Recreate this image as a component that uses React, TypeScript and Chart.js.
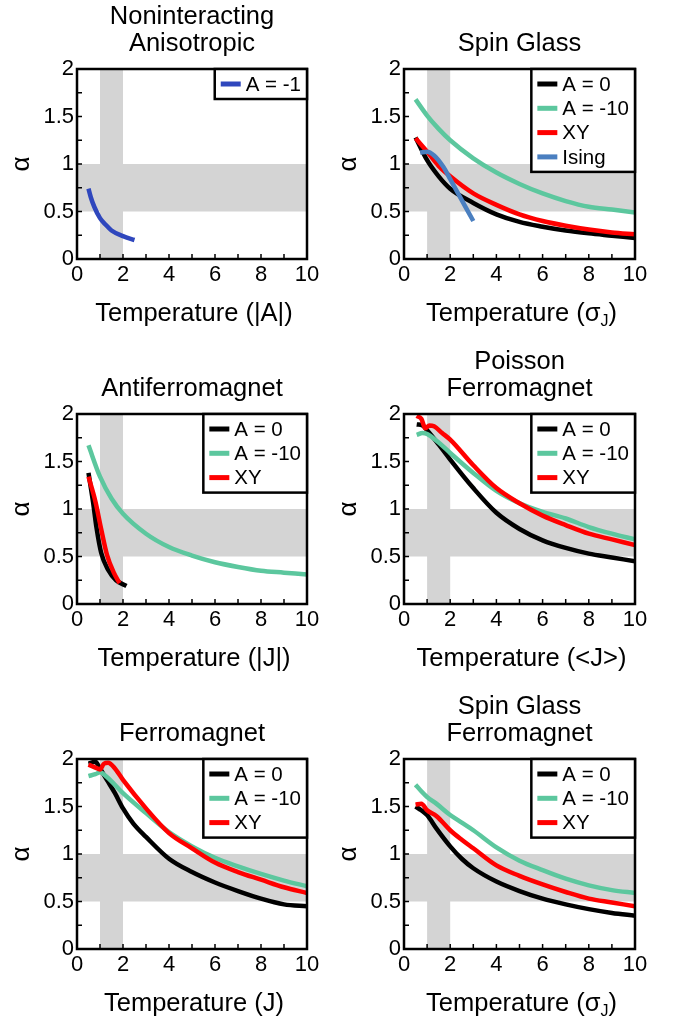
import React, { useEffect, useRef } from "react";
import { Chart, registerables } from "chart.js";

Chart.register(...registerables);

const FONT = "'Liberation Sans', Arial, Helvetica, sans-serif";

// ---------------- axes / reference bands ----------------
const tempTicks = [0, 2, 4, 6, 8, 10];
const alphaTicks = [0, 0.5, 1, 1.5, 2];
const tempMinor = [1, 2, 3, 4, 5, 6, 7, 8, 9];
const alphaMinor = [0.25, 0.5, 0.75, 1, 1.25, 1.5, 1.75];
const bandTemperature = [1, 2];
const bandAlpha = [0.5, 1];

// ---------------- Noninteracting Anisotropic ----------------
const niT = [0.5, 0.6, 0.75, 1.0, 1.25, 1.5, 2.0, 2.5];
const niA1 = [0.74, 0.65, 0.55, 0.43, 0.36, 0.3, 0.24, 0.2];

// ---------------- Spin Glass ----------------
const sgT = [0.5, 1, 1.5, 2, 3, 4, 5, 6, 7, 8, 9, 10];
const sgA0 = [1.28, 1.04, 0.87, 0.74, 0.59, 0.47, 0.39, 0.34, 0.3, 0.27, 0.245, 0.22];
const sgA10 = [1.68, 1.51, 1.37, 1.25, 1.06, 0.91, 0.79, 0.69, 0.61, 0.55, 0.52, 0.49];
const sgXY = [1.27, 1.13, 0.98, 0.87, 0.69, 0.57, 0.47, 0.4, 0.35, 0.31, 0.28, 0.26];
const sgIsingT = [0.7, 1.0, 1.3, 1.7, 2.0, 2.5, 3.0];
const sgIsing = [1.12, 1.13, 1.09, 0.97, 0.84, 0.62, 0.4];

// ---------------- Antiferromagnet ----------------
const afA0T = [0.5, 0.7, 0.85, 1.05, 1.35, 1.7, 2.15];
const afA0 = [1.38, 1.07, 0.8, 0.54, 0.36, 0.25, 0.19];
const afA10T = [0.5, 1, 1.5, 2, 3, 4, 5, 6, 7, 8, 9, 10];
const afA10 = [1.67, 1.34, 1.11, 0.95, 0.74, 0.6, 0.51, 0.44, 0.39, 0.35, 0.33, 0.31];
const afXYT = [0.5, 0.8, 1.05, 1.3, 1.6, 1.85];
const afXY = [1.34, 1.08, 0.79, 0.52, 0.33, 0.22];

// ---------------- Poisson Ferromagnet ----------------
const pfT = [0.55, 0.8, 1.0, 1.5, 2, 3, 4, 5, 6, 7, 8, 9, 10];
const pfA0 = [1.89, 1.88, 1.83, 1.68, 1.52, 1.22, 0.96, 0.79, 0.67, 0.59, 0.53, 0.49, 0.45];
const pfA10 = [1.78, 1.8, 1.79, 1.7, 1.59, 1.38, 1.19, 1.06, 0.97, 0.9, 0.81, 0.74, 0.68];
const pfXYT = [0.55, 0.75, 0.92, 1.1, 1.3, 1.65, 2, 3, 4, 5, 6, 7, 8, 9, 10];
const pfXY = [1.98, 1.95, 1.85, 1.88, 1.87, 1.8, 1.73, 1.46, 1.22, 1.06, 0.93, 0.83, 0.74, 0.68, 0.62];

// ---------------- Ferromagnet ----------------
const fA0T = [0.5, 0.8, 1.0, 1.3, 1.65, 2, 2.45, 3, 4, 5, 6, 7, 8, 9, 10];
const fA0 = [1.95, 1.97, 1.9, 1.78, 1.64, 1.48, 1.32, 1.18, 0.95, 0.81, 0.7, 0.61, 0.53, 0.47, 0.45];
const fA10T = [0.5, 0.8, 1.0, 1.3, 2, 3, 4, 5, 6, 7, 8, 9, 10];
const fA10 = [1.82, 1.84, 1.86, 1.81, 1.64, 1.43, 1.23, 1.08, 0.96, 0.87, 0.79, 0.72, 0.66];
const fXYT = [0.5, 0.8, 1.0, 1.17, 1.35, 1.65, 2, 3, 4, 5, 6, 7, 8, 9, 10];
const fXY = [1.94, 1.91, 1.89, 1.95, 1.96, 1.9, 1.78, 1.48, 1.22, 1.06, 0.91, 0.81, 0.73, 0.65, 0.59];

// ---------------- Spin Glass Ferromagnet ----------------
const sgfT = [0.5, 0.75, 1, 1.4, 2, 2.5, 3, 4, 5, 6, 7, 8, 9, 10];
const sgfA0 = [1.5, 1.46, 1.41, 1.27, 1.08, 0.95, 0.85, 0.71, 0.61, 0.53, 0.47, 0.42, 0.38, 0.35];
const sgfA10 = [1.73, 1.66, 1.6, 1.53, 1.41, 1.33, 1.25, 1.07, 0.93, 0.83, 0.74, 0.67, 0.62, 0.59];
const sgfXY = [1.52, 1.53, 1.46, 1.4, 1.25, 1.15, 1.06, 0.88, 0.77, 0.68, 0.6, 0.53, 0.49, 0.45];

// ---------------- styling ----------------
const C_A0 = "#000000";
const C_A10 = "#5cc79e";
const C_XY = "#ff0000";
const C_ISING = "#4a7fc0";
const C_A1 = "#2f47bd";
const BAND = "#d4d4d4";

type Seg = { t: string; sub?: boolean };
type Series = { label: string; color: string; t: number[]; a: number[] };
type PanelDef = { title: string[]; xTitle: Seg[]; col: number; row: number; series: Series[] };

const T_A = [{ t: "Temperature (|A|)" }];
const T_SIGMA = [{ t: "Temperature (" }, { t: "σ" }, { t: "J", sub: true }, { t: ")" }];

const panels: PanelDef[] = [
  {
    title: ["Noninteracting", "Anisotropic"], xTitle: T_A, col: 0, row: 0,
    series: [{ label: "A = -1", color: C_A1, t: niT, a: niA1 }],
  },
  {
    title: ["Spin Glass"], xTitle: T_SIGMA, col: 1, row: 0,
    series: [
      { label: "A = 0", color: C_A0, t: sgT, a: sgA0 },
      { label: "A = -10", color: C_A10, t: sgT, a: sgA10 },
      { label: "XY", color: C_XY, t: sgT, a: sgXY },
      { label: "Ising", color: C_ISING, t: sgIsingT, a: sgIsing },
    ],
  },
  {
    title: ["Antiferromagnet"], xTitle: [{ t: "Temperature (|J|)" }], col: 0, row: 1,
    series: [
      { label: "A = 0", color: C_A0, t: afA0T, a: afA0 },
      { label: "A = -10", color: C_A10, t: afA10T, a: afA10 },
      { label: "XY", color: C_XY, t: afXYT, a: afXY },
    ],
  },
  {
    title: ["Poisson", "Ferromagnet"], xTitle: [{ t: "Temperature (<J>)" }], col: 1, row: 1,
    series: [
      { label: "A = 0", color: C_A0, t: pfT, a: pfA0 },
      { label: "A = -10", color: C_A10, t: pfT, a: pfA10 },
      { label: "XY", color: C_XY, t: pfXYT, a: pfXY },
    ],
  },
  {
    title: ["Ferromagnet"], xTitle: [{ t: "Temperature (J)" }], col: 0, row: 2,
    series: [
      { label: "A = 0", color: C_A0, t: fA0T, a: fA0 },
      { label: "A = -10", color: C_A10, t: fA10T, a: fA10 },
      { label: "XY", color: C_XY, t: fXYT, a: fXY },
    ],
  },
  {
    title: ["Spin Glass", "Ferromagnet"], xTitle: T_SIGMA, col: 1, row: 2,
    series: [
      { label: "A = 0", color: C_A0, t: sgfT, a: sgfA0 },
      { label: "A = -10", color: C_A10, t: sgfT, a: sgfA10 },
      { label: "XY", color: C_XY, t: sgfT, a: sgfXY },
    ],
  },
];

const COL_LEFT = [0, 336];
const COL_W = [336, 337];
const ROW_TOP = [0, 345, 690];
const CANVAS_H = 336;

const TITLE_SIZE = 25.5;
const XTITLE_SIZE = 25.5;
const TICK_SIZE = 22;
const LEGEND_SIZE = 20.5;

function makePlugins(p: PanelDef) {
  const bands = {
    id: "bands",
    beforeDatasetsDraw(chart: any) {
      const { ctx, chartArea: ca, scales } = chart;
      const x = scales.x, y = scales.y;
      ctx.save();
      ctx.fillStyle = BAND;
      const x1 = x.getPixelForValue(bandTemperature[0]);
      const x2 = x.getPixelForValue(bandTemperature[1]);
      ctx.fillRect(x1, ca.top, x2 - x1, ca.bottom - ca.top);
      const y1 = y.getPixelForValue(bandAlpha[1]);
      const y2 = y.getPixelForValue(bandAlpha[0]);
      ctx.fillRect(ca.left, y1, ca.right - ca.left, y2 - y1);
      ctx.restore();
    },
  };
  const frame = {
    id: "frame",
    afterDatasetsDraw(chart: any) {
      const { ctx, chartArea: ca, scales } = chart;
      ctx.save();
      ctx.strokeStyle = "#000";
      ctx.lineWidth = 1.5;
      ctx.beginPath();
      for (const v of tempMinor) {
        const px = scales.x.getPixelForValue(v);
        ctx.moveTo(px, ca.bottom);
        ctx.lineTo(px, ca.bottom - 5);
      }
      for (const v of alphaMinor) {
        const py = scales.y.getPixelForValue(v);
        ctx.moveTo(ca.left, py);
        ctx.lineTo(ca.left + 5, py);
      }
      ctx.stroke();
      ctx.lineWidth = 2.5;
      ctx.strokeRect(ca.left, ca.top, ca.right - ca.left, ca.bottom - ca.top);
      ctx.restore();
    },
  };
  const legend = {
    id: "insideLegend",
    afterDraw(chart: any) {
      const { ctx, chartArea: ca } = chart;
      const ds = chart.data.datasets;
      ctx.save();
      ctx.font = `${LEGEND_SIZE}px ${FONT}`;
      let maxW = 0;
      for (const d of ds) maxW = Math.max(maxW, ctx.measureText(d.label).width);
      const w = 32 + maxW + 5;
      const rowH = 24.3;
      const h = 30 + (ds.length - 1) * rowH;
      const left = ca.right - w;
      const top = ca.top;
      ctx.fillStyle = "#fff";
      ctx.fillRect(left, top, w, h);
      ctx.lineWidth = 2.5;
      ctx.strokeStyle = "#000";
      ctx.strokeRect(left, top, w, h);
      ds.forEach((d: any, i: number) => {
        const cy = top + 15 + i * rowH;
        ctx.strokeStyle = d.borderColor;
        ctx.lineWidth = 5;
        ctx.beginPath();
        ctx.moveTo(left + 6, cy);
        ctx.lineTo(left + 26, cy);
        ctx.stroke();
        ctx.fillStyle = "#000";
        ctx.textBaseline = "middle";
        ctx.textAlign = "left";
        ctx.fillText(d.label, left + 31, cy + 1);
      });
      ctx.restore();
    },
  };
  const xTitle = {
    id: "xTitle",
    afterDraw(chart: any) {
      const { ctx, chartArea: ca } = chart;
      ctx.save();
      const mainF = `${XTITLE_SIZE}px ${FONT}`;
      const subF = `${Math.round(XTITLE_SIZE * 0.62)}px ${FONT}`;
      const widths = p.xTitle.map((s) => {
        ctx.font = s.sub ? subF : mainF;
        return ctx.measureText(s.t).width;
      });
      const total = widths.reduce((a, b) => a + b, 0);
      let x = (ca.left + ca.right) / 2 - total / 2 + 2;
      const base = ca.bottom + 62;
      ctx.fillStyle = "#000";
      ctx.textBaseline = "alphabetic";
      ctx.textAlign = "left";
      p.xTitle.forEach((s, i) => {
        ctx.font = s.sub ? subF : mainF;
        ctx.fillText(s.t, x, s.sub ? base + 5 : base);
        x += widths[i];
      });
      ctx.restore();
    },
  };
  return [bands, frame, legend, xTitle];
}

function buildConfig(p: PanelDef): any {
  const n = p.series.length;
  const twoLine = p.title.length > 1;
  return {
    type: "line",
    data: {
      datasets: p.series.map((s, i) => ({
        label: s.label,
        data: s.t.map((t, k) => ({ x: t, y: s.a[k] })),
        borderColor: s.color,
        backgroundColor: s.color,
        borderWidth: 4.5,
        pointRadius: 0,
        fill: false,
        cubicInterpolationMode: "monotone",
        order: n - i,
      })),
    },
    options: {
      responsive: false,
      animation: false,
      devicePixelRatio: 1,
      layout: {
        padding: p.col === 0 ? { left: 9, right: 29, top: 0, bottom: 0 } : { left: 0, right: 38, top: 0, bottom: 0 },
      },
      plugins: {
        legend: { display: false },
        tooltip: { enabled: false },
        title: {
          display: true,
          text: p.title,
          fullSize: false,
          color: "#000",
          font: { family: FONT, size: TITLE_SIZE, weight: "normal", lineHeight: 27 / TITLE_SIZE },
          padding: twoLine ? { top: 3, bottom: 12 } : { top: 30, bottom: 12 },
        },
      },
      scales: {
        x: {
          type: "linear",
          min: 0,
          max: 10,
          afterBuildTicks: (s: any) => { s.ticks = tempTicks.map((v) => ({ value: v })); },
          afterFit: (s: any) => { s.height = 77; },
          grid: { display: false, drawTicks: false },
          border: { display: false },
          ticks: {
            color: "#000",
            font: { family: FONT, size: TICK_SIZE },
            padding: 3,
            maxRotation: 0,
            callback: (v: number) => String(v),
          },
        },
        y: {
          type: "linear",
          min: 0,
          max: 2,
          afterBuildTicks: (s: any) => { s.ticks = alphaTicks.map((v) => ({ value: v })); },
          afterFit: (s: any) => { s.width = 68; },
          grid: { display: false, drawTicks: false },
          border: { display: false },
          ticks: {
            color: "#000",
            font: { family: FONT, size: TICK_SIZE },
            padding: 3,
            callback: (v: number) => String(v),
          },
          title: {
            display: true,
            text: "α",
            color: "#000",
            font: { family: FONT, size: 26, lineHeight: 1.0 },
            padding: 0,
          },
        },
      },
    },
    plugins: makePlugins(p),
  };
}

function Panel({ p }: { p: PanelDef }) {
  const ref = useRef<HTMLCanvasElement>(null);
  useEffect(() => {
    const chart = new Chart(ref.current as HTMLCanvasElement, buildConfig(p));
    return () => chart.destroy();
  }, [p]);
  const w = COL_W[p.col];
  return (
    <canvas
      ref={ref}
      width={w}
      height={CANVAS_H}
      style={{ position: "absolute", left: COL_LEFT[p.col], top: ROW_TOP[p.row], width: w, height: CANVAS_H }}
    />
  );
}

export default function App() {
  return (
    <div style={{ position: "absolute", left: 0, top: 0, width: 673, height: 1026, background: "#fff" }}>
      {panels.map((p, i) => (
        <Panel key={i} p={p} />
      ))}
    </div>
  );
}
